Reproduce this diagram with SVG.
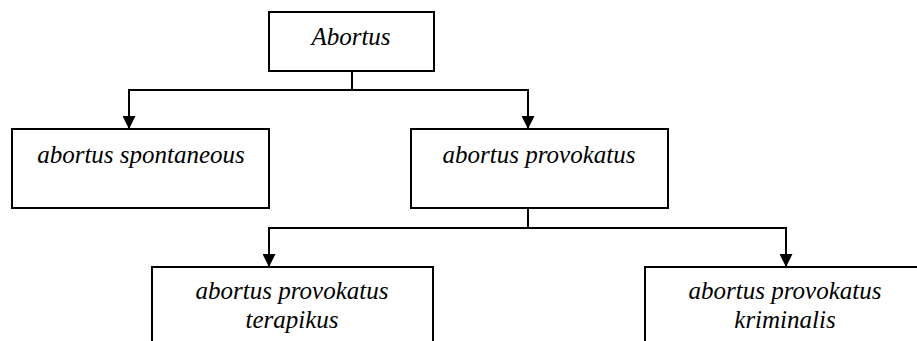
<svg xmlns="http://www.w3.org/2000/svg" width="917" height="341" viewBox="0 0 917 341">
<style>
.box{fill:#fff;stroke:#000;stroke-width:2}
.lbl{font-family:'Liberation Serif','DejaVu Serif',serif;font-style:italic;font-size:25px;fill:#000;text-anchor:middle}
.con{fill:none;stroke:#000;stroke-width:2}
</style>
<defs>
<marker id="arr" markerUnits="userSpaceOnUse" markerWidth="13" markerHeight="13" refX="13" refY="6.5" orient="auto" viewBox="0 0 13 13">
<path d="M0,0 L13,6.5 L0,13 z" fill="#000"/>
</marker>
</defs>
<rect width="917" height="341" fill="#fff"/>
<g id="connectors">
<path class="con" d="M352,71 V90"/>
<path class="con" d="M128,90 H529"/>
<path class="con" d="M129,90 V129" marker-end="url(#arr)"/>
<path class="con" d="M528,90 V129" marker-end="url(#arr)"/>
<path class="con" d="M528,208 V228"/>
<path class="con" d="M268,228 H787"/>
<path class="con" d="M269,228 V267" marker-end="url(#arr)"/>
<path class="con" d="M786,228 V267" marker-end="url(#arr)"/>
</g>
<g id="abortus">
<rect class="box" x="269" y="12" width="165" height="59"/>
<text class="lbl" x="351" y="45" font-family="Liberation Serif">Abortus</text>
</g>
<g id="spontaneous">
<rect class="box" x="12" y="129" width="257" height="79"/>
<text class="lbl" x="141" y="163">abortus spontaneous</text>
</g>
<g id="provokatus">
<rect class="box" x="411" y="129" width="257" height="79"/>
<text class="lbl" x="539" y="163">abortus provokatus</text>
</g>
<g id="terapikus">
<rect class="box" x="152" y="267" width="281" height="90"/>
<text class="lbl" x="292" y="299">abortus provokatus</text>
<text class="lbl" x="292" y="328">terapikus</text>
</g>
<g id="kriminalis">
<rect class="box" x="645" y="267" width="282" height="90"/>
<text class="lbl" x="785" y="299">abortus provokatus</text>
<text class="lbl" x="785" y="328">kriminalis</text>
</g>
</svg>
